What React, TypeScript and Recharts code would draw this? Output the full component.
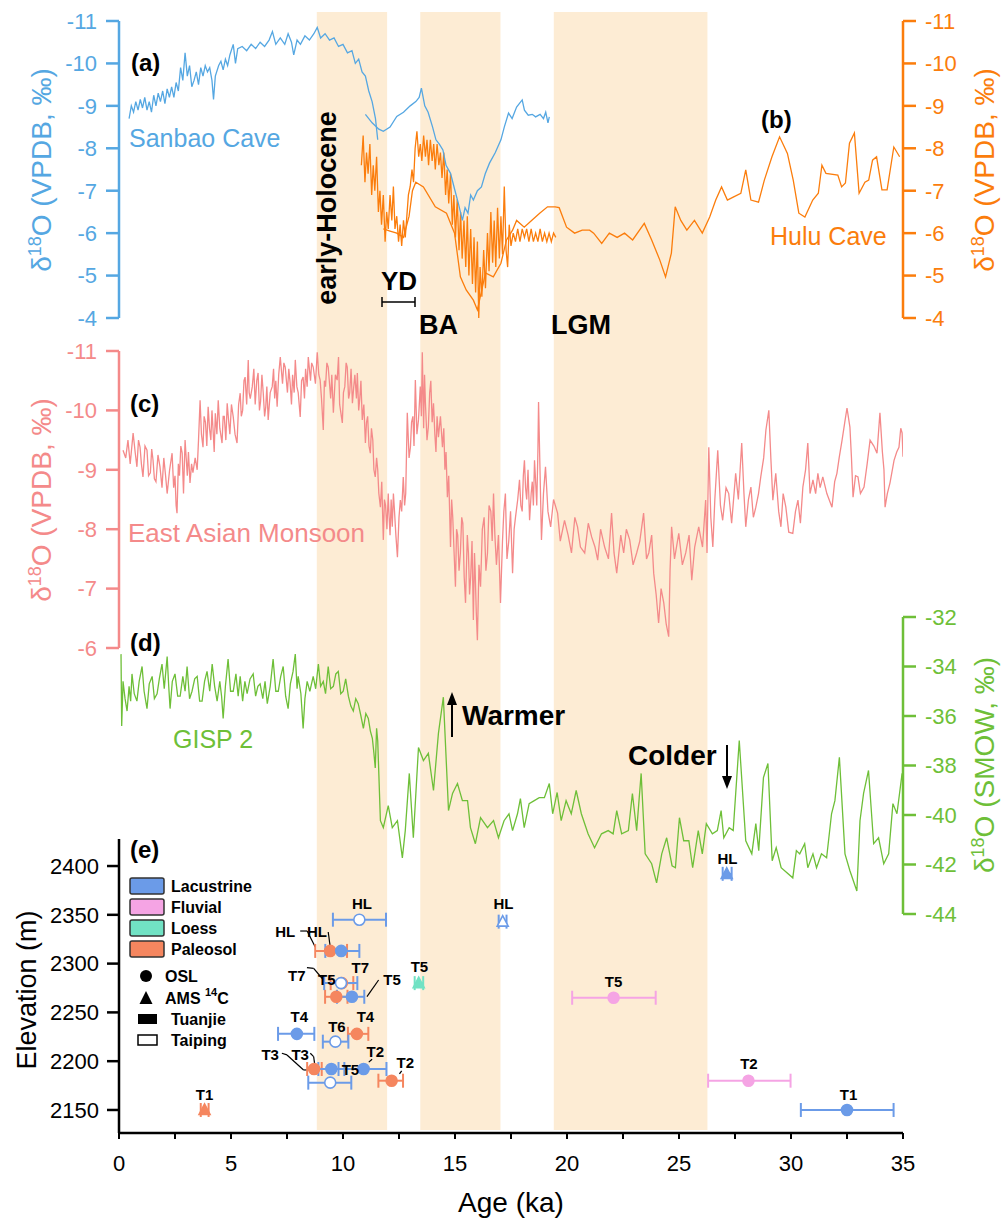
import React from 'react'
import {
  ComposedChart, ScatterChart, Line, Scatter, XAxis, YAxis, ReferenceArea, ReferenceLine, ErrorBar,
} from 'recharts'

type Pt = [number, number]

// (a) Sanbao Cave, age ka / d18O
const sanbaoA: Pt[] = [
  [0.45, -8.7], [0.55, -9.0], [0.65, -8.85], [0.75, -9.1], [0.85, -8.9], [0.95, -9.15], [1.05, -8.95],
  [1.15, -9.2], [1.25, -8.9], [1.35, -9.1], [1.45, -8.85], [1.55, -9.25], [1.65, -9.0], [1.75, -9.3],
  [1.85, -9.1], [1.95, -9.35], [2.05, -9.05], [2.15, -9.4], [2.25, -9.2], [2.35, -9.45], [2.45, -9.2],
  [2.55, -9.55], [2.65, -9.35], [2.75, -9.9], [2.85, -9.6], [2.95, -10.25], [3.05, -9.7], [3.15, -9.95],
  [3.25, -9.45], [3.35, -9.6], [3.45, -9.8], [3.55, -9.5], [3.65, -9.9], [3.75, -9.7], [3.85, -9.95],
  [3.95, -9.8], [4.05, -9.9], [4.15, -9.6], [4.22, -9.15], [4.3, -9.7], [4.45, -9.95], [4.55, -10.05],
  [4.65, -9.85], [4.75, -10.1], [4.85, -9.95], [4.95, -10.2], [5.1, -10.45], [5.2, -10.0], [5.3, -10.35],
  [5.5, -10.4], [5.7, -10.3], [5.9, -10.45], [6.1, -10.35], [6.3, -10.5], [6.5, -10.4], [6.7, -10.55],
  [6.85, -10.75], [7.0, -10.45], [7.2, -10.6], [7.4, -10.45], [7.55, -10.7], [7.7, -10.5], [7.8, -10.2],
  [7.95, -10.55], [8.1, -10.45], [8.3, -10.65], [8.5, -10.55], [8.7, -10.7], [8.85, -10.85], [9.0, -10.6],
  [9.2, -10.7], [9.4, -10.55], [9.6, -10.6], [9.8, -10.4], [10.0, -10.45], [10.2, -10.25], [10.4, -10.3],
  [10.55, -10.0], [10.7, -10.1], [10.85, -9.8], [11.0, -9.7], [11.15, -9.35], [11.3, -9.1], [11.45, -8.7],
  [11.55, -8.2],
]
const sanbaoB: Pt[] = [
  [11.0, -8.8], [11.3, -8.6], [11.6, -8.45], [11.8, -8.4], [12.1, -8.5], [12.4, -8.75], [12.7, -8.85],
  [13.0, -9.0], [13.25, -9.1], [13.4, -9.2], [13.5, -9.42], [13.65, -9.0], [13.8, -8.85], [14.0, -8.5],
  [14.15, -8.2], [14.3, -8.1], [14.46, -7.96], [14.6, -7.6], [14.8, -7.41], [15.0, -7.0], [15.15, -6.7],
  [15.33, -6.3], [15.45, -6.6], [15.58, -6.47], [15.7, -6.9], [15.82, -6.78], [16.0, -7.0], [16.18, -7.09],
  [16.35, -7.4], [16.54, -7.65], [16.8, -7.9], [17.05, -8.2], [17.2, -8.5], [17.39, -8.83], [17.55, -8.7],
  [17.75, -8.97], [18.0, -9.14], [18.1, -8.9], [18.27, -8.78], [18.45, -8.8], [18.6, -8.74], [18.8, -8.8],
  [18.95, -8.7], [19.05, -8.85], [19.15, -8.6], [19.21, -8.74],
]

// (b) Hulu Cave
const huluA: Pt[] = [
  [10.82, -7.6], [10.9, -8.3], [10.98, -7.2], [11.05, -7.9], [11.12, -7.4], [11.2, -8.1], [11.28, -6.9],
  [11.35, -7.6], [11.42, -7.0], [11.5, -7.8], [11.58, -6.5], [11.65, -7.0], [11.72, -6.2], [11.8, -6.9],
  [11.88, -5.8], [11.95, -6.5], [12.02, -6.1], [12.1, -6.9], [12.18, -6.3], [12.25, -7.1], [12.32, -6.1],
  [12.4, -6.4], [12.48, -5.8], [12.55, -6.2], [12.62, -5.7], [12.7, -6.3], [12.78, -5.9], [12.85, -6.4],
  [12.92, -6.9], [13.0, -7.1], [13.08, -7.5], [13.15, -7.2], [13.22, -8.0], [13.3, -8.4], [13.38, -7.8],
  [13.45, -8.1], [13.52, -7.7], [13.6, -8.3], [13.68, -7.8], [13.75, -8.2], [13.82, -7.6], [13.9, -8.2],
  [13.98, -7.7], [14.05, -8.1], [14.12, -7.5], [14.2, -8.1], [14.28, -7.6], [14.35, -7.9], [14.42, -7.3],
  [14.5, -7.9], [14.58, -6.9], [14.65, -7.5], [14.72, -6.7], [14.8, -7.4], [14.88, -6.2], [14.95, -6.9],
  [15.02, -5.9], [15.1, -6.8], [15.18, -5.6], [15.25, -6.5], [15.32, -5.4], [15.4, -6.3], [15.48, -5.2],
  [15.55, -6.4], [15.62, -5.0], [15.7, -6.1], [15.78, -4.8], [15.85, -5.9], [15.92, -4.6], [16.0, -5.8],
  [16.06, -4.0], [16.12, -5.2], [16.2, -4.5], [16.28, -5.6], [16.36, -4.7], [16.45, -6.0], [16.52, -5.1],
  [16.6, -6.5], [16.68, -5.3], [16.75, -6.3], [16.82, -5.2], [16.9, -6.6], [16.98, -5.4], [17.05, -6.4],
  [17.12, -5.5], [17.2, -7.1], [17.28, -5.6], [17.35, -5.2], [17.42, -6.2], [17.5, -5.7], [17.6, -6.0],
  [17.7, -5.8], [17.8, -6.1], [17.9, -5.8], [18.0, -6.1], [18.1, -5.9], [18.2, -6.1], [18.3, -5.8],
  [18.4, -6.1], [18.5, -5.8], [18.6, -6.0], [18.7, -5.8], [18.8, -6.1], [18.9, -5.8], [19.0, -6.0],
  [19.1, -5.8], [19.2, -6.0], [19.3, -5.8], [19.4, -6.0], [19.5, -5.9],
]
const huluB: Pt[] = [
  [11.8, -6.1], [12.1, -6.05], [12.4, -6.0], [12.7, -5.9], [12.95, -6.4], [13.1, -7.0], [13.25, -7.2],
  [13.59, -7.09], [14.12, -6.62], [14.62, -6.47], [14.98, -6.0], [15.24, -4.97], [15.5, -4.66],
  [15.82, -4.42], [16.0, -4.19], [16.36, -5.06], [16.71, -4.97], [17.05, -5.29], [17.3, -5.84],
  [17.57, -6.07], [17.75, -6.3], [18.09, -6.14], [18.42, -6.3], [18.78, -6.47], [19.13, -6.62],
  [19.47, -6.62], [19.65, -6.6], [19.98, -6.14], [20.34, -6.0], [20.68, -6.07], [21.01, -6.07],
  [21.19, -6.0], [21.55, -5.76], [21.89, -6.0], [22.24, -5.9], [22.57, -6.0], [22.93, -5.84],
  [23.45, -6.23], [23.78, -5.84], [24.14, -5.37], [24.4, -4.97], [24.66, -5.53], [24.83, -6.62],
  [25.08, -6.3], [25.35, -6.07], [25.69, -6.3], [26.04, -6.0], [26.37, -6.38], [26.64, -6.78],
  [26.9, -7.09], [27.16, -6.78], [27.42, -6.85], [27.76, -6.94], [27.98, -7.49], [28.21, -6.78],
  [28.55, -6.73], [28.81, -7.25], [29.15, -7.8], [29.49, -8.27], [29.84, -7.88], [30.1, -7.25],
  [30.35, -6.47], [30.62, -6.38], [30.97, -6.78], [31.22, -6.94], [31.38, -7.6], [31.56, -7.41],
  [32.09, -7.37], [32.26, -7.09], [32.43, -7.18], [32.61, -8.12], [32.83, -8.36], [33.04, -6.94],
  [33.3, -7.2], [33.47, -7.25], [33.64, -7.72], [33.82, -7.8], [34.06, -7.02], [34.29, -7.02],
  [34.59, -8.03], [34.85, -7.8],
]

// (c) East Asian Monsoon composite
const eam: Pt[] = [
  [0.18, -9.33], [0.3, -9.2], [0.4, -9.5], [0.5, -9.1], [0.63, -9.62], [0.72, -9.3], [0.8, -9.05],
  [0.87, -9.5], [0.94, -9.38], [1.0, -9.1], [1.07, -8.88], [1.16, -9.4], [1.25, -9.33], [1.32, -8.9],
  [1.4, -8.95], [1.46, -9.35], [1.52, -9.16], [1.58, -8.85], [1.65, -8.8], [1.74, -9.25], [1.83, -9.05],
  [1.92, -8.7], [2.0, -9.2], [2.08, -8.9], [2.15, -8.6], [2.26, -9.0], [2.37, -9.28], [2.44, -8.7],
  [2.5, -8.9], [2.55, -8.4], [2.59, -8.27], [2.65, -9.1], [2.7, -8.9], [2.76, -9.4], [2.82, -9.28],
  [2.88, -8.6], [2.95, -9.5], [3.0, -9.2], [3.05, -8.9], [3.1, -9.3], [3.17, -8.78], [3.24, -9.1],
  [3.3, -8.95], [3.4, -9.2], [3.49, -9.0], [3.55, -9.5], [3.62, -10.17], [3.68, -9.6], [3.75, -9.38],
  [3.8, -9.9], [3.86, -9.8], [3.92, -9.4], [3.98, -10.06], [4.04, -9.7], [4.1, -9.5], [4.15, -10.0],
  [4.2, -9.67], [4.25, -9.3], [4.3, -9.95], [4.37, -9.6], [4.43, -10.17], [4.5, -9.7], [4.6, -9.45],
  [4.65, -9.9], [4.7, -9.9], [4.77, -9.5], [4.83, -10.12], [4.9, -9.8], [4.95, -9.6], [5.02, -10.1],
  [5.1, -9.89], [5.18, -9.6], [5.27, -9.45], [5.34, -10.1], [5.41, -10.29], [5.46, -9.9], [5.52, -10.0],
  [5.58, -10.5], [5.63, -10.56], [5.7, -10.1], [5.77, -10.85], [5.81, -10.3],
  [5.86, -10.2], [5.95, -10.4], [6.02, -10.7], [6.08, -10.1], [6.15, -10.5], [6.21, -10.63], [6.27, -10.0],
  [6.32, -10.15], [6.38, -10.6], [6.44, -10.29], [6.5, -9.9],
  [6.55, -10.05], [6.6, -10.4], [6.66, -9.84], [6.75, -10.3], [6.84, -10.4], [6.9, -10.7], [6.95, -10.2],
  [7.0, -10.5], [7.06, -10.06], [7.13, -10.6],
  [7.2, -10.9], [7.3, -10.45], [7.36, -10.8], [7.42, -10.73], [7.52, -10.3], [7.58, -10.7], [7.64, -10.46],
  [7.7, -10.1], [7.75, -10.6], [7.82, -10.3],
  [7.87, -10.85], [7.94, -10.4], [8.0, -10.3], [8.09, -9.89], [8.15, -10.5], [8.22, -10.56], [8.28, -10.2],
  [8.33, -10.7], [8.4, -10.4], [8.45, -10.9],
  [8.55, -10.5], [8.6, -10.8], [8.67, -10.73], [8.77, -10.45], [8.85, -10.98], [8.92, -10.6], [8.98, -10.51],
  [9.04, -10.2], [9.12, -9.67], [9.17, -10.5],
  [9.22, -10.4], [9.28, -10.8], [9.34, -10.73], [9.45, -10.2], [9.5, -10.6], [9.57, -9.96], [9.66, -10.6],
  [9.74, -10.51], [9.8, -10.9], [9.85, -10.1], [9.97, -9.79], [10.02, -10.3], [10.08, -10.4], [10.14, -10.8],
  [10.19, -10.73], [10.25, -10.2], [10.3, -10.3], [10.36, -10.7], [10.42, -10.12],
  [10.48, -10.4], [10.53, -10.6], [10.6, -10.2], [10.64, -10.63], [10.7, -10.0], [10.75, -10.2], [10.8, -10.5],
  [10.86, -9.84], [10.93, -10.1], [11.0, -9.45], [11.05, -9.8], [11.1, -9.9],
  [11.16, -9.4], [11.22, -9.28], [11.27, -9.7], [11.33, -9.5], [11.38, -9.0], [11.44, -8.88], [11.5, -9.2],
  [11.55, -9.0], [11.6, -8.6], [11.67, -8.37], [11.73, -8.8], [11.8, -7.82],
  [11.85, -8.5], [11.9, -8.4], [11.96, -8.0], [12.02, -8.6], [12.06, -8.2], [12.1, -7.9], [12.15, -8.5],
  [12.2, -8.04], [12.25, -8.6], [12.3, -8.3], [12.36, -7.9], [12.43, -7.53], [12.5, -8.2], [12.56, -8.49],
  [12.62, -8.3], [12.69, -8.88], [12.75, -8.4], [12.8, -8.6], [12.87, -9.96], [12.95, -9.2], [13.01, -9.38],
  [13.06, -9.8], [13.12, -9.9], [13.17, -9.4],
  [13.23, -10.51], [13.3, -9.6], [13.37, -9.84], [13.45, -10.4], [13.5, -9.9], [13.54, -10.98], [13.6, -9.7],
  [13.64, -10.6], [13.68, -10.12], [13.75, -9.5], [13.81, -9.72], [13.87, -10.3], [13.92, -10.5],
  [13.98, -9.8], [14.04, -10.12], [14.1, -9.6],
  [14.15, -9.3], [14.2, -9.9], [14.26, -9.55], [14.35, -9.9], [14.44, -9.38], [14.5, -9.7], [14.55, -9.0],
  [14.6, -9.3], [14.66, -8.54], [14.72, -8.9],
  [14.8, -7.7], [14.85, -8.5], [14.9, -8.2], [14.96, -7.6], [15.02, -7.03], [15.07, -8.0], [15.12, -7.9],
  [15.18, -7.3], [15.24, -7.6], [15.3, -8.2], [15.35, -8.1],
  [15.41, -7.2], [15.47, -6.76], [15.52, -7.5], [15.55, -7.9], [15.6, -7.6], [15.65, -6.9], [15.7, -7.2],
  [15.76, -7.8], [15.82, -6.47], [15.87, -7.6], [15.9, -7.3], [15.95, -6.6], [16.0, -6.13],
  [16.07, -7.4], [16.14, -7.03], [16.22, -8.0], [16.3, -8.2], [16.38, -7.3], [16.45, -7.6],
  [16.52, -8.4], [16.6, -8.3], [16.66, -7.8], [16.72, -8.6], [16.78, -7.9], [16.85, -7.4], [16.94, -7.9],
  [17.03, -6.76], [17.12, -7.8], [17.18, -8.3], [17.25, -8.6], [17.32, -7.5],
  [17.4, -7.8], [17.48, -8.3], [17.57, -7.26], [17.64, -8.0], [17.7, -8.2], [17.8, -8.5], [17.88, -8.83],
  [17.94, -8.4], [18.0, -8.3], [18.05, -8.9], [18.1, -9.16],
  [18.15, -8.7], [18.2, -8.5], [18.26, -9.0], [18.33, -8.15], [18.4, -8.6], [18.45, -8.8], [18.5, -8.4],
  [18.55, -9.16], [18.6, -8.8], [18.65, -8.4], [18.7, -9.3], [18.73, -10.14],
  [18.8, -8.9], [18.86, -7.82], [18.95, -8.6], [19.04, -9.05], [19.15, -8.3], [19.27, -8.04],
  [19.4, -8.5], [19.58, -8.27], [19.7, -7.8], [19.89, -8.15], [20.05, -7.9], [20.2, -7.6],
  [20.35, -8.2], [20.47, -8.04], [20.6, -7.7], [20.79, -7.6], [20.95, -8.1], [21.1, -7.87],
  [21.25, -7.7], [21.37, -7.48], [21.5, -8.0], [21.68, -7.7], [21.85, -7.5], [21.99, -8.27],
  [22.1, -7.6], [22.22, -7.26], [22.4, -7.9], [22.53, -7.6], [22.65, -8.0], [22.8, -7.82],
  [22.95, -7.4], [23.11, -7.6], [23.25, -7.8], [23.42, -8.27], [23.55, -7.5], [23.65, -7.6],
  [23.78, -7.9], [23.87, -7.26], [23.98, -6.9], [24.09, -6.42], [24.2, -7.0], [24.32, -6.76],
  [24.43, -6.4], [24.54, -6.19], [24.6, -7.3], [24.67, -8.04], [24.8, -7.5], [24.99, -7.93],
  [25.15, -7.4], [25.3, -7.6], [25.45, -7.9], [25.57, -7.14], [25.7, -7.7], [25.88, -8.04],
  [26.05, -7.7], [26.19, -8.49], [26.25, -7.6], [26.33, -9.38], [26.42, -8.2], [26.51, -7.7],
  [26.6, -8.5], [26.73, -9.33], [26.85, -8.4], [26.95, -8.15], [27.1, -8.7], [27.22, -8.6],
  [27.35, -8.1], [27.53, -8.94], [27.65, -8.5], [27.8, -9.45], [27.9, -8.6], [27.98, -8.04],
  [28.1, -8.5], [28.21, -8.71], [28.32, -8.2], [28.43, -8.37], [28.55, -8.6], [28.65, -8.88],
  [28.78, -9.2], [28.88, -9.67], [29.01, -10.0], [29.1, -9.2], [29.19, -8.49], [29.32, -8.94],
  [29.45, -8.3], [29.55, -8.04], [29.65, -8.6], [29.77, -8.37], [29.9, -7.95], [30.08, -7.93],
  [30.2, -8.3], [30.31, -8.49], [30.42, -8.1], [30.53, -8.71], [30.65, -9.0], [30.75, -9.45],
  [30.85, -8.6], [30.98, -8.83], [31.1, -8.6], [31.2, -8.94], [31.3, -8.7], [31.42, -8.88],
  [31.6, -8.6], [31.83, -8.37], [31.95, -8.8], [32.05, -8.94], [32.15, -9.2], [32.28, -9.5],
  [32.4, -9.8], [32.5, -10.04], [32.63, -9.72], [32.7, -9.2], [32.77, -8.54], [32.88, -8.9],
  [32.99, -8.88], [33.1, -8.6], [33.26, -8.71], [33.4, -9.1], [33.53, -9.5], [33.7, -9.4],
  [33.84, -9.28], [33.97, -9.96], [34.08, -9.3], [34.15, -9.0], [34.2, -8.37], [34.3, -8.6],
  [34.42, -8.78], [34.6, -9.16], [34.72, -9.3], [34.82, -9.38], [34.9, -9.7], [34.96, -9.62], [35.0, -9.22],
]

// (d) GISP 2
const gisp2: Pt[] = [
  [0.09, -33.5], [0.12, -36.4], [0.18, -34.6], [0.27, -35.3], [0.36, -35.8], [0.45, -34.8], [0.52, -35.4],
  [0.58, -34.3], [0.68, -35.1], [0.8, -35.4], [0.9, -34.6], [1.03, -34.0], [1.12, -35.0], [1.25, -35.7],
  [1.35, -34.7], [1.48, -34.4], [1.58, -35.3], [1.7, -35.1], [1.8, -34.5], [1.92, -33.9], [2.02, -34.9],
  [2.15, -33.6], [2.22, -34.8], [2.28, -35.7], [2.38, -34.6], [2.5, -34.3], [2.62, -35.2], [2.73, -35.2],
  [2.85, -34.4], [2.95, -35.0], [3.04, -34.0], [3.15, -35.3], [3.26, -35.0], [3.38, -34.5], [3.49, -34.4],
  [3.6, -35.4], [3.71, -35.4], [3.82, -34.6], [3.93, -34.2], [4.05, -35.0], [4.16, -33.9], [4.27, -34.8],
  [4.38, -35.4], [4.5, -34.6], [4.58, -35.2], [4.65, -36.1], [4.75, -34.8], [4.87, -33.7], [4.98, -35.0],
  [5.1, -35.0], [5.22, -34.3], [5.32, -35.2], [5.41, -34.4], [5.52, -35.4], [5.62, -34.6], [5.72, -35.1],
  [5.85, -34.5], [5.99, -34.3], [6.1, -35.2], [6.2, -34.8], [6.3, -34.7], [6.42, -35.3], [6.52, -34.6],
  [6.62, -35.5], [6.75, -34.8], [6.88, -33.7], [7.0, -35.0], [7.11, -35.0], [7.22, -34.4], [7.33, -34.0],
  [7.44, -35.2], [7.55, -35.7], [7.65, -34.7], [7.77, -34.2], [7.87, -33.5], [7.95, -34.9], [8.0, -34.4],
  [8.12, -35.1], [8.22, -36.5], [8.3, -35.3], [8.4, -34.6], [8.52, -35.0], [8.67, -34.4], [8.78, -34.9],
  [8.9, -33.9], [9.0, -34.8], [9.12, -34.6], [9.22, -35.1], [9.34, -34.0], [9.45, -34.9], [9.57, -34.8],
  [9.68, -34.3], [9.79, -34.2], [9.9, -35.1], [10.01, -35.0], [10.12, -34.5], [10.24, -35.2], [10.35, -35.6],
  [10.46, -35.8], [10.57, -35.3], [10.68, -35.5], [10.8, -36.0], [10.91, -36.5], [11.02, -35.9],
  [11.13, -36.1], [11.22, -36.6], [11.31, -36.9], [11.38, -37.5], [11.44, -38.1], [11.5, -36.5],
  [11.55, -37.0], [11.67, -40.23], [11.8, -40.51], [12.02, -39.62], [12.2, -40.51], [12.43, -40.23],
  [12.65, -41.73], [12.78, -40.63], [12.96, -38.32], [13.14, -40.92], [13.37, -37.27], [13.59, -37.8],
  [13.81, -37.51], [14.04, -39.01], [14.26, -36.7], [14.48, -35.24], [14.71, -39.82], [14.89, -39.13],
  [15.11, -38.73], [15.33, -39.42], [15.56, -39.42], [15.69, -40.51], [15.91, -41.16], [16.14, -40.11],
  [16.45, -40.51], [16.72, -40.23], [16.94, -40.92], [17.19, -40.23], [17.41, -39.95], [17.57, -40.63],
  [17.79, -39.95], [17.92, -39.34], [18.09, -40.51], [18.31, -39.54], [18.54, -39.42], [18.76, -39.3],
  [18.99, -39.3], [19.21, -38.73], [19.36, -39.95], [19.56, -39.09], [19.74, -40.23], [19.96, -39.42],
  [20.19, -39.95], [20.41, -39.01], [20.64, -39.95], [20.94, -40.76], [21.23, -41.32], [21.54, -40.76],
  [21.84, -40.63], [22.06, -40.76], [22.22, -39.82], [22.44, -40.76], [22.74, -40.63], [22.92, -39.13],
  [23.11, -40.63], [23.31, -38.32], [23.49, -41.57], [23.78, -41.97], [24.0, -42.74], [24.23, -41.57],
  [24.45, -40.92], [24.69, -42.05], [24.84, -42.13], [25.02, -40.11], [25.21, -41.04], [25.44, -41.04],
  [25.61, -42.13], [25.86, -40.63], [26.04, -41.57], [26.22, -40.35], [26.49, -40.76], [26.71, -40.63],
  [26.88, -39.82], [27.0, -40.92], [27.24, -40.51], [27.42, -40.63], [27.69, -36.99], [27.98, -41.04],
  [28.25, -41.57], [28.43, -40.35], [28.56, -41.44], [28.77, -38.49], [28.97, -37.92], [29.16, -41.85],
  [29.34, -41.32], [29.56, -42.13], [30.08, -42.54], [30.24, -41.44], [30.39, -41.57], [30.61, -41.16],
  [30.75, -42.13], [30.98, -41.57], [31.14, -42.13], [31.36, -41.57], [31.59, -41.73], [31.81, -39.95],
  [31.96, -39.42], [32.16, -37.67], [32.41, -41.57], [32.63, -42.25], [32.94, -43.07], [33.08, -40.23],
  [33.24, -39.13], [33.46, -38.2], [33.69, -41.16], [33.91, -40.92], [34.14, -41.97], [34.36, -41.57],
  [34.55, -39.54], [34.73, -39.95], [34.96, -38.32],
]

// shaded intervals (early-Holocene, BA, LGM), ka
const bands: Pt[] = [[8.83, 11.97], [13.45, 17.03], [19.41, 26.27]]

// (e) dated terraces: [age, ageMin, ageMax, elevation m, method, site]
type Sample = [number, number, number, number, 'OSL' | 'AMS', 'Tuanjie' | 'Taiping']
const paleosol: Sample[] = [
  [9.43, 8.76, 10.18, 2313, 'OSL', 'Tuanjie'],
  [9.95, 9.45, 10.46, 2280, 'OSL', 'Tuanjie'],
  [9.7, 9.2, 10.2, 2266, 'OSL', 'Tuanjie'],
  [10.62, 10.22, 11.13, 2228, 'OSL', 'Tuanjie'],
  [8.71, 8.4, 9.05, 2192, 'OSL', 'Tuanjie'],
  [12.17, 11.58, 12.68, 2180, 'OSL', 'Tuanjie'],
  [3.82, 3.65, 4.0, 2150, 'AMS', 'Tuanjie'],
]
const lacustrine: Sample[] = [
  [10.73, 9.55, 11.92, 2345, 'OSL', 'Taiping'],
  [17.13, 16.95, 17.3, 2343, 'AMS', 'Taiping'],
  [27.13, 26.95, 27.35, 2392, 'AMS', 'Tuanjie'],
  [9.92, 9.21, 10.73, 2313, 'OSL', 'Tuanjie'],
  [9.91, 9.16, 10.64, 2280, 'OSL', 'Taiping'],
  [10.4, 9.73, 10.95, 2266, 'OSL', 'Tuanjie'],
  [7.94, 7.1, 8.72, 2228, 'OSL', 'Tuanjie'],
  [9.66, 9.1, 10.24, 2220, 'OSL', 'Taiping'],
  [9.48, 8.9, 10.06, 2192, 'OSL', 'Tuanjie'],
  [10.92, 9.8, 11.94, 2192, 'OSL', 'Tuanjie'],
  [9.43, 8.45, 10.37, 2178, 'OSL', 'Taiping'],
  [32.5, 30.44, 34.58, 2150, 'OSL', 'Tuanjie'],
]
const fluvial: Sample[] = [
  [22.08, 20.23, 23.96, 2265, 'OSL', 'Tuanjie'],
  [28.1, 26.3, 29.98, 2180, 'OSL', 'Tuanjie'],
]
const loess: Sample[] = [
  [13.38, 13.2, 13.58, 2280, 'AMS', 'Tuanjie'],
]

// terrace labels [age, elevation, text]
const sampleLabels: [number, number, string][] = [
  [10.85, 2361.8, 'HL'], [17.16, 2362, 'HL'], [7.42, 2332.7, 'HL'], [8.84, 2332.7, 'HL'],
  [7.94, 2287.3, 'T7'], [9.28, 2283.2, 'T5'], [10.77, 2295.5, 'T7'], [12.19, 2283.2, 'T5'],
  [13.41, 2296.8, 'T5'], [8.05, 2245.6, 'T4'], [9.73, 2235.4, 'T6'], [11.0, 2245.6, 'T4'],
  [6.75, 2206.4, 'T3'], [8.09, 2206.4, 'T3'], [11.44, 2209.7, 'T2'], [12.78, 2198.2, 'T2'],
  [10.33, 2191.0, 'T5'], [22.08, 2281.6, 'T5'], [28.12, 2197.6, 'T2'], [32.57, 2165.9, 'T1'],
  [3.82, 2165.9, 'T1'], [27.16, 2407.9, 'HL'],
]
// leader lines [age1, elev1, age2, elev2]
const leaders: [number, number, number, number][] = [
  [8.09, 2333.4, 8.4, 2333.4], [8.4, 2333.4, 8.76, 2317],
  [9.34, 2332.4, 9.43, 2317],
  [8.39, 2295.8, 8.69, 2295.2], [8.69, 2295.2, 9.13, 2283.2],
  [11.59, 2283.2, 11.07, 2266.1],
  [7.27, 2208.1, 7.5, 2206.4], [7.5, 2206.4, 8.24, 2191], [8.24, 2191, 8.46, 2191],
  [8.54, 2208.1, 8.69, 2204.6], [8.69, 2204.6, 8.76, 2192.7],
  [11.3, 2202, 11.15, 2199],
  [12.62, 2190, 12.52, 2187],
]

const ageTicks = [0, 2.5, 5, 7.5, 10, 12.5, 15, 17.5, 20, 22.5, 25, 27.5, 30, 32.5, 35]
const caveTicks = [-11, -10, -9, -8, -7, -6, -5, -4]
const eamTicks = [-11, -10, -9, -8, -7, -6]
const gispTicks = [-44, -42, -40, -38, -36, -34, -32]
const elevTicks = [2150, 2200, 2250, 2300, 2350, 2400]

const BLUE = '#55a7e2'
const ORANGE = '#fb7d0c'
const PINK = '#f48a8a'
const GREEN = '#6ebf38'
const PEACH = '#fdecd4'
const LAC = '#6b9be8'
const FLU = '#f5a4e4'
const LOE = '#71e2c4'
const PAL = '#f5865f'
const FONT = '"Liberation Sans", Arial, Helvetica, sans-serif'

const rows = (pts: Pt[]) => pts.map(([age, v]) => ({ age, v }))
const samples = (s: Sample[]) =>
  s.map(([age, lo, hi, elev, method, site]) => ({ age, elev, err: [age - lo, hi - age], method, site }))

const axisStyle = (color: string) => ({
  type: 'number' as const,
  stroke: color,
  tick: { fill: color, fontSize: 22 },
  tickSize: 13,
  tickMargin: 9,
  axisLine: { stroke: color, strokeWidth: 2.5 },
  tickLine: { stroke: color, strokeWidth: 2.5 },
  interval: 0 as const,
  allowDataOverflow: true,
})

const hiddenX = <XAxis type="number" dataKey="age" domain={[0, 35]} hide allowDataOverflow />

function marker(color: string) {
  return (p: any) => {
    const { cx, cy, payload } = p
    const fill = payload.site === 'Taiping' ? '#fff' : color
    if (payload.method === 'AMS') {
      return (
        <polygon
          points={`${cx},${cy - 6} ${cx - 5.5},${cy + 4.5} ${cx + 5.5},${cy + 4.5}`}
          fill={fill} stroke={color} strokeWidth={1.6}
        />
      )
    }
    return <circle cx={cx} cy={cy} r={5.5} fill={fill} stroke={color} strokeWidth={1.6} />
  }
}

const labelShape = (p: any) => (
  <text x={p.cx} y={p.cy} textAnchor="middle" dominantBaseline="central"
    fontSize={15} fontWeight="bold" fill="#000">{p.payload.text}</text>
)

function DeltaTitle({ x, y, color, unit }: { x: number; y: number; color: string; unit: string }) {
  return (
    <text transform={`translate(${x},${y}) rotate(-90)`} textAnchor="middle" fill={color} fontSize={28}>
      δ<tspan dy={-10} fontSize={18}>18</tspan><tspan dy={10}>O ({unit}, ‰)</tspan>
    </text>
  )
}

function Overlay() {
  const bold = { fontWeight: 'bold' as const, fill: '#000' }
  const legend: [string, string][] = [['Lacustrine', LAC], ['Fluvial', FLU], ['Loess', LOE], ['Paleosol', PAL]]
  return (
    <svg width={1003} height={1225} style={{ position: 'absolute', left: 0, top: 0 }}>
      <DeltaTitle x={51} y={170} color={BLUE} unit="VPDB" />
      <DeltaTitle x={51} y={500} color={PINK} unit="VPDB" />
      <DeltaTitle x={994} y={170} color={ORANGE} unit="VPDB" />
      <DeltaTitle x={994} y={765} color={GREEN} unit="SMOW" />
      <text transform="translate(36,990) rotate(-90)" textAnchor="middle" fontSize={27} fill="#000">Elevation (m)</text>
      <text x={511} y={1212} textAnchor="middle" fontSize={28} fill="#000">Age (ka)</text>

      <text x={131} y={71} fontSize={24} {...bold}>(a)</text>
      <text x={129} y={147} fontSize={25} fill={BLUE}>Sanbao Cave</text>
      <text transform="translate(336,208) rotate(-90)" textAnchor="middle" fontSize={27} {...bold}>early-Holocene</text>
      <text x={381} y={290} fontSize={26} {...bold}>YD</text>
      <line x1={382} y1={302} x2={415} y2={302} stroke="#000" strokeWidth={1.5} />
      <line x1={382} y1={297} x2={382} y2={307} stroke="#000" strokeWidth={1.5} />
      <line x1={415} y1={297} x2={415} y2={307} stroke="#000" strokeWidth={1.5} />
      <text x={419} y={334} fontSize={27} {...bold}>BA</text>
      <text x={551} y={334} fontSize={27} {...bold}>LGM</text>
      <text x={761} y={128} fontSize={24} {...bold}>(b)</text>
      <text x={770} y={245} fontSize={25} fill={ORANGE}>Hulu Cave</text>

      <text x={130} y={412} fontSize={24} {...bold}>(c)</text>
      <text x={128} y={542} fontSize={26} fill={PINK}>East Asian Monsoon</text>

      <text x={130} y={651} fontSize={24} {...bold}>(d)</text>
      <text x={173} y={748} fontSize={25} fill={GREEN}>GISP 2</text>
      <line x1={452} y1={737} x2={452} y2={702} stroke="#000" strokeWidth={2} />
      <polygon points="452,692 447,705 457,705" fill="#000" />
      <text x={462} y={725} fontSize={28} {...bold}>Warmer</text>
      <text x={628} y={765} fontSize={28} {...bold}>Colder</text>
      <line x1={727} y1={745} x2={727} y2={778} stroke="#000" strokeWidth={2} />
      <polygon points="727,789 722,776 732,776" fill="#000" />

      <text x={130} y={858} fontSize={24} {...bold}>(e)</text>
      {legend.map(([name, c], i) => (
        <g key={name}>
          <rect x={130} y={878 + i * 21} width={34} height={16} rx={2} fill={c} stroke="#333" strokeWidth={1.5} />
          <text x={171} y={886 + i * 21} dominantBaseline="central" fontSize={16} {...bold}>{name}</text>
        </g>
      ))}
      <circle cx={146} cy={976} r={6} fill="#000" />
      <text x={165} y={976} dominantBaseline="central" fontSize={16} {...bold}>OSL</text>
      <polygon points="146,991 139.5,1004 152.5,1004" fill="#000" />
      <text x={165} y={998} dominantBaseline="central" fontSize={16} {...bold}>
        AMS <tspan dy={-6} fontSize={11}>14</tspan><tspan dy={6}>C</tspan>
      </text>
      <rect x={138} y={1014} width={19} height={10} fill="#000" />
      <text x={171} y={1019} dominantBaseline="central" fontSize={16} {...bold}>Tuanjie</text>
      <rect x={138} y={1035} width={19} height={10} fill="#fff" stroke="#000" strokeWidth={1.5} />
      <text x={171} y={1040} dominantBaseline="central" fontSize={16} {...bold}>Taiping</text>
    </svg>
  )
}

const bandFrame = [{ age: 0, y: 0 }, { age: 35, y: 1 }]

export default function App() {
  const place = (top: number): React.CSSProperties => ({ position: 'absolute', left: 0, top })
  return (
    <div style={{ position: 'absolute', left: 0, top: 0, width: 1003, height: 1225, background: '#fff', fontFamily: FONT }}>
      {/* shaded intervals spanning every panel */}
      <div style={place(0)}>
        <ComposedChart width={1003} height={1225} margin={{ top: 12, right: 100, bottom: 95, left: 119 }}
          data={bandFrame}>
          <XAxis type="number" dataKey="age" domain={[0, 35]} hide />
          <YAxis type="number" domain={[0, 1]} hide />
          <Line dataKey="y" stroke="none" dot={false} activeDot={false} isAnimationActive={false} />
          {bands.map(([a, b]) => (
            <ReferenceArea key={a} x1={a} x2={b} fill={PEACH} fillOpacity={1} stroke="none" ifOverflow="visible" />
          ))}
        </ComposedChart>
      </div>

      {/* (a) Sanbao + (b) Hulu */}
      <div style={place(0)}>
        <ComposedChart width={1003} height={340} margin={{ top: 21, right: 0, bottom: 22, left: 0 }}>
          {hiddenX}
          <YAxis yAxisId="sb" orientation="left" width={119} domain={[-11, -4]} reversed ticks={caveTicks} {...axisStyle(BLUE)} />
          <YAxis yAxisId="hl" orientation="right" width={100} domain={[-11, -4]} reversed ticks={caveTicks} {...axisStyle(ORANGE)} />
          <Line yAxisId="hl" data={rows(huluB)} dataKey="v" stroke={ORANGE} strokeWidth={1.3} dot={false} activeDot={false} isAnimationActive={false} />
          <Line yAxisId="hl" data={rows(huluA)} dataKey="v" stroke={ORANGE} strokeWidth={1.3} dot={false} activeDot={false} isAnimationActive={false} />
          <Line yAxisId="sb" data={rows(sanbaoB)} dataKey="v" stroke={BLUE} strokeWidth={1.3} dot={false} activeDot={false} isAnimationActive={false} />
          <Line yAxisId="sb" data={rows(sanbaoA)} dataKey="v" stroke={BLUE} strokeWidth={1.3} dot={false} activeDot={false} isAnimationActive={false} />
        </ComposedChart>
      </div>

      {/* (c) East Asian Monsoon */}
      <div style={place(330)}>
        <ComposedChart width={1003} height={340} margin={{ top: 21, right: 100, bottom: 22, left: 0 }}>
          {hiddenX}
          <YAxis orientation="left" width={119} domain={[-11, -6]} reversed ticks={eamTicks} {...axisStyle(PINK)} />
          <Line data={rows(eam)} dataKey="v" stroke={PINK} strokeWidth={1.3} dot={false} activeDot={false} isAnimationActive={false} />
        </ComposedChart>
      </div>

      {/* (d) GISP 2 */}
      <div style={place(596)}>
        <ComposedChart width={1003} height={340} margin={{ top: 21, right: 0, bottom: 22, left: 119 }}>
          {hiddenX}
          <YAxis orientation="right" width={100} domain={[-44, -32]} ticks={gispTicks} {...axisStyle(GREEN)} />
          <Line data={rows(gisp2)} dataKey="v" stroke={GREEN} strokeWidth={1.3} dot={false} activeDot={false} isAnimationActive={false} />
        </ComposedChart>
      </div>

      {/* (e) terrace ages vs elevation */}
      <div style={place(839)}>
        <ScatterChart width={1003} height={386} margin={{ top: 0, right: 100, bottom: 0, left: 0 }}>
          <XAxis type="number" dataKey="age" domain={[0, 35]} ticks={ageTicks} interval={0}
            tickFormatter={(v: number) => (v % 5 === 0 ? String(v) : '')}
            height={92} stroke="#000" tick={{ fill: '#000', fontSize: 22 }} tickSize={6} tickMargin={16}
            axisLine={{ stroke: '#000', strokeWidth: 2.5 }} tickLine={{ stroke: '#000', strokeWidth: 2 }} allowDataOverflow />
          <YAxis dataKey="elev" orientation="left" width={119} domain={[2126.4, 2427.7]} ticks={elevTicks}
            {...axisStyle('#000')} tickSize={12} tickMargin={8} />
          {leaders.map(([a, b, c, d], i) => (
            <ReferenceLine key={i} segment={[{ x: a, y: b }, { x: c, y: d }]} stroke="#000" strokeWidth={1.2} ifOverflow="visible" />
          ))}
          <Scatter data={samples(paleosol)} shape={marker(PAL)} isAnimationActive={false}>
            <ErrorBar dataKey="err" direction="x" width={7} strokeWidth={2} stroke={PAL} />
          </Scatter>
          <Scatter data={samples(fluvial)} shape={marker(FLU)} isAnimationActive={false}>
            <ErrorBar dataKey="err" direction="x" width={7} strokeWidth={2} stroke={FLU} />
          </Scatter>
          <Scatter data={samples(loess)} shape={marker(LOE)} isAnimationActive={false}>
            <ErrorBar dataKey="err" direction="x" width={7} strokeWidth={2} stroke={LOE} />
          </Scatter>
          <Scatter data={samples(lacustrine)} shape={marker(LAC)} isAnimationActive={false}>
            <ErrorBar dataKey="err" direction="x" width={7} strokeWidth={2} stroke={LAC} />
          </Scatter>
          <Scatter data={sampleLabels.map(([age, elev, text]) => ({ age, elev, text }))} shape={labelShape} isAnimationActive={false} />
        </ScatterChart>
      </div>

      <Overlay />
    </div>
  )
}
